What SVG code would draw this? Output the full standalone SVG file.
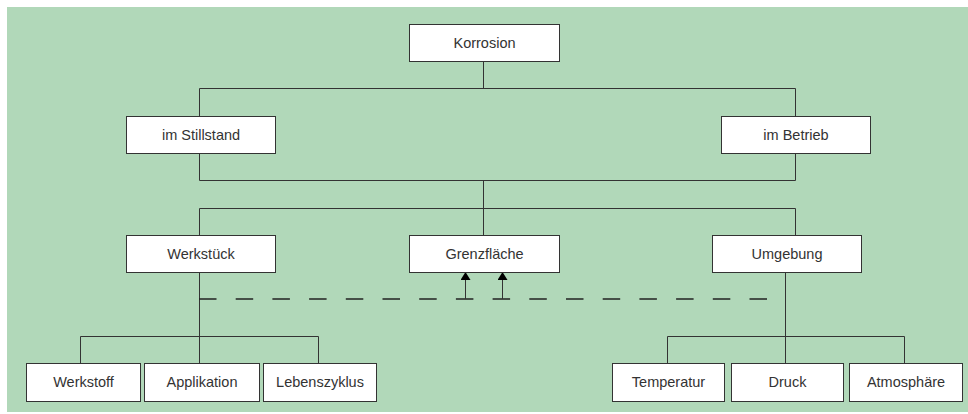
<svg xmlns="http://www.w3.org/2000/svg" width="968" height="414" viewBox="0 0 968 414">
<style>
.box{fill:#fff;stroke:#333;stroke-width:1}
.lbl{font-family:"Liberation Sans",Arial,sans-serif;font-size:14.5px;fill:#333;text-anchor:middle}
.ln{fill:none;stroke:#333;stroke-width:1}
.dash{fill:none;stroke:#222;stroke-width:1.5;stroke-dasharray:17.5 19.2}
</style>
<defs>
<marker id="ah" viewBox="0 0 8 10" refX="8" refY="5" markerWidth="8" markerHeight="10" markerUnits="userSpaceOnUse" orient="auto">
<path d="M0,0 L8,5 L0,10 Z" fill="#000"/>
</marker>
</defs>
<rect x="7" y="7" width="961" height="405" fill="#b1d8b9"/>
<g id="connectors">
<path class="ln" d="M483.5,62 V88.5 M199.5,88.5 H795.5 M199.5,88.5 V116 M795.5,88.5 V116"/>
<path class="ln" d="M199.5,153 V180.5 H795.5 V153 M483.5,180.5 V208.5 M199.5,208.5 H795.5 M199.5,208.5 V235 M483.5,208.5 V235 M795.5,208.5 V235"/>
<path class="ln" d="M199.5,272 V336.5 M80.5,336.5 H318.5 M80.5,336.5 V363 M199.5,336.5 V363 M318.5,336.5 V363"/>
<path class="ln" d="M785.5,272 V336.5 M667.5,336.5 H904.5 M667.5,336.5 V363 M785.5,336.5 V363 M904.5,336.5 V363"/>
<path class="dash" d="M199,299 H767"/>
<path class="ln" d="M465.5,299 V272" marker-end="url(#ah)"/>
<path class="ln" d="M502.5,299 V272" marker-end="url(#ah)"/>
</g>
<g id="korrosion"><rect class="box" x="409.5" y="24.5" width="150" height="37"/><text class="lbl" x="484.5" y="48">Korrosion</text></g>
<g id="stillstand"><rect class="box" x="126.5" y="116.5" width="149" height="37"/><text class="lbl" x="201" y="140">im Stillstand</text></g>
<g id="betrieb"><rect class="box" x="721.5" y="116.5" width="149" height="37"/><text class="lbl" x="796" y="140">im Betrieb</text></g>
<g id="werkstueck"><rect class="box" x="126.5" y="235.5" width="149" height="37"/><text class="lbl" x="201" y="259">Werkstück</text></g>
<g id="grenzflaeche"><rect class="box" x="409.5" y="235.5" width="150" height="37"/><text class="lbl" x="484.5" y="259">Grenzfläche</text></g>
<g id="umgebung"><rect class="box" x="712.5" y="235.5" width="149" height="37"/><text class="lbl" x="787" y="259">Umgebung</text></g>
<g id="werkstoff"><rect class="box" x="26.5" y="363.5" width="114" height="38"/><text class="lbl" x="83.5" y="387">Werkstoff</text></g>
<g id="applikation"><rect class="box" x="144.5" y="363.5" width="115" height="38"/><text class="lbl" x="202" y="387">Applikation</text></g>
<g id="lebenszyklus"><rect class="box" x="263.5" y="363.5" width="113" height="38"/><text class="lbl" x="320" y="387">Lebenszyklus</text></g>
<g id="temperatur"><rect class="box" x="612.5" y="363.5" width="112" height="38"/><text class="lbl" x="668.5" y="387">Temperatur</text></g>
<g id="druck"><rect class="box" x="731.5" y="363.5" width="112" height="38"/><text class="lbl" x="787.5" y="387">Druck</text></g>
<g id="atmosphaere"><rect class="box" x="849.5" y="363.5" width="113" height="38"/><text class="lbl" x="906" y="387">Atmosphäre</text></g>
</svg>
